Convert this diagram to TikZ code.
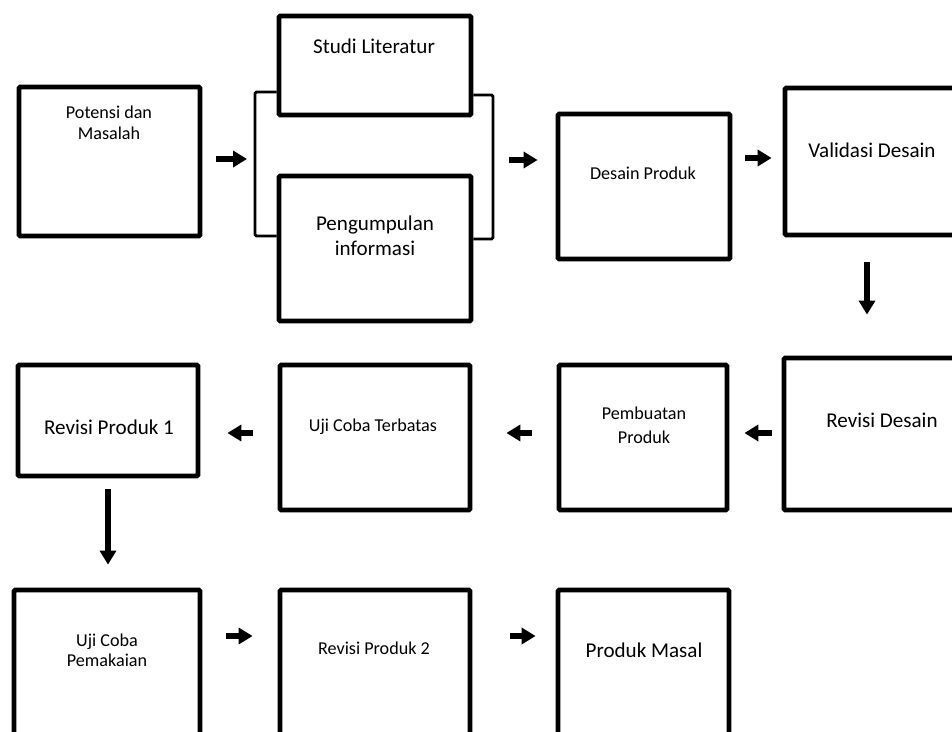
\documentclass[tikz,border=0pt]{standalone}
\usepackage{fontspec}
\setmainfont{Carlito}
\usetikzlibrary{arrows.meta,shadows}
\tikzset{
  box/.style={draw=black, line width=3.6pt, fill=white, rounded corners=1pt, inner sep=0pt,
    drop shadow={shadow xshift=1.2pt, shadow yshift=-1.2pt, opacity=0.25, fill=black}},
  brk/.style={draw=black, line width=2.1pt, rounded corners=1pt},
  arr/.style={draw=black, line width=4pt, -{Triangle[length=10.5pt,width=12pt]}},
  lg/.style={inner sep=0pt, align=center, font=\fontsize{15.8}{18.75}\selectfont},
  sm/.style={inner sep=0pt, align=center, font=\fontsize{13.6}{16}\selectfont},
}
\begin{document}
\begin{tikzpicture}[x=0.75pt,y=-0.75pt]
\useasboundingbox (0,0) rectangle (952,731);
% row 1
\node[box, minimum width=181*0.75pt, minimum height=149*0.75pt] (pot) at (109.5,161.5) {};
\node[box, minimum width=192*0.75pt, minimum height=99*0.75pt] (stud) at (375,65.5) {};
\node[box, minimum width=192*0.75pt, minimum height=145*0.75pt] (peng) at (375,248.5) {};
\node[box, minimum width=172*0.75pt, minimum height=145*0.75pt] (desp) at (644,186.5) {};
\node[box, minimum width=174*0.75pt, minimum height=147*0.75pt] (vali) at (872,161.5) {};
% row 2
\node[box, minimum width=180*0.75pt, minimum height=111*0.75pt] (rev1) at (108,420.5) {};
\node[box, minimum width=190*0.75pt, minimum height=145*0.75pt] (ujit) at (375,437.5) {};
\node[box, minimum width=168*0.75pt, minimum height=145*0.75pt] (pemb) at (643,437.5) {};
\node[box, minimum width=189*0.75pt, minimum height=152*0.75pt] (revd) at (878.5,434) {};
% row 3
\node[box, minimum width=186*0.75pt, minimum height=208*0.75pt] (ujip) at (107,694) {};
\node[box, minimum width=190*0.75pt, minimum height=208*0.75pt] (rev2) at (375,694) {};
\node[box, minimum width=171*0.75pt, minimum height=208*0.75pt] (masal) at (643.5,694) {};

% texts
\node[sm, font=\fontsize{13.6}{15.75}\selectfont] (tpot) at (109,122.5) {Potensi dan\\Masalah};
\node[lg] (tstud) at (374,46) {Studi Literatur};
\node[lg] (tpeng) at (375,235.5) {Pengumpulan\\informasi};
\node[sm] (tdesp) at (643,173) {Desain Produk};
\node[lg] (tvali) at (872,150) {Validasi Desain};
\node[lg] (trev1) at (109,427) {Revisi Produk 1};
\node[sm] (tujit) at (373,427) {Uji Coba Terbatas};
\node[sm, font=\fontsize{13.6}{18}\selectfont] (tpemb) at (644,425) {Pembuatan\\Produk};
\node[lg] (trevd) at (882,420) {Revisi Desain};
\node[sm, font=\fontsize{13.6}{15}\selectfont] (tujip) at (107,650) {Uji Coba\\Pemakaian};
\node[sm] (trev2) at (374,648) {Revisi Produk 2};
\node[lg] (tmasal) at (644,650) {Produk Masal};

% bracket
\coordinate (bl1) at (255,92);
\coordinate (bl2) at (255,236);
\coordinate (br1) at (493,95);
\coordinate (br2) at (493,239);
\coordinate (brL) at (255,159);
\coordinate (brR) at (493,160);
\draw[brk] (stud.west |- bl1) -- (bl1) -- (bl2) -- (peng.west |- bl2);
\draw[brk] (stud.east |- br1) -- (br1) -- (br2) -- (peng.east |- br2);

% arrow rows
\coordinate (y1) at (0,159);
\coordinate (y1b) at (0,160);
\coordinate (y1c) at (0,158);
\coordinate (y2) at (0,433);
\coordinate (y3) at (0,636);
\coordinate (xv) at (867,0);
\coordinate (xr) at (108,0);

\draw[arr, shorten <=10.5pt, shorten >=6pt] (pot.east |- y1) -- (brL);
\draw[arr, shorten <=12pt, shorten >=13.5pt] (brR) -- (desp.west |- y1b);
\draw[arr, shorten <=9.75pt, shorten >=8.25pt] (desp.east |- y1c) -- (vali.west |- y1c);
\draw[arr, shorten <=18.75pt, shorten >=30.75pt] (vali.south -| xv) -- (revd.north -| xv);
\draw[arr, shorten <=7.5pt, shorten >=11.25pt] (revd.west |- y2) -- (pemb.east |- y2);
\draw[arr, shorten <=18.75pt, shorten >=25.5pt] (pemb.west |- y2) -- (ujit.east |- y2);
\draw[arr, shorten <=18.75pt, shorten >=20.25pt] (ujit.west |- y2) -- (rev1.east |- y2);
\draw[arr, shorten <=8.25pt, shorten >=17.25pt] (rev1.south -| xr) -- (ujip.north -| xr);
\draw[arr, shorten <=18pt, shorten >=18.75pt] (ujip.east |- y3) -- (rev2.west |- y3);
\draw[arr, shorten <=28.5pt, shorten >=15pt] (rev2.east |- y3) -- (masal.west |- y3);
\end{tikzpicture}
\end{document}
